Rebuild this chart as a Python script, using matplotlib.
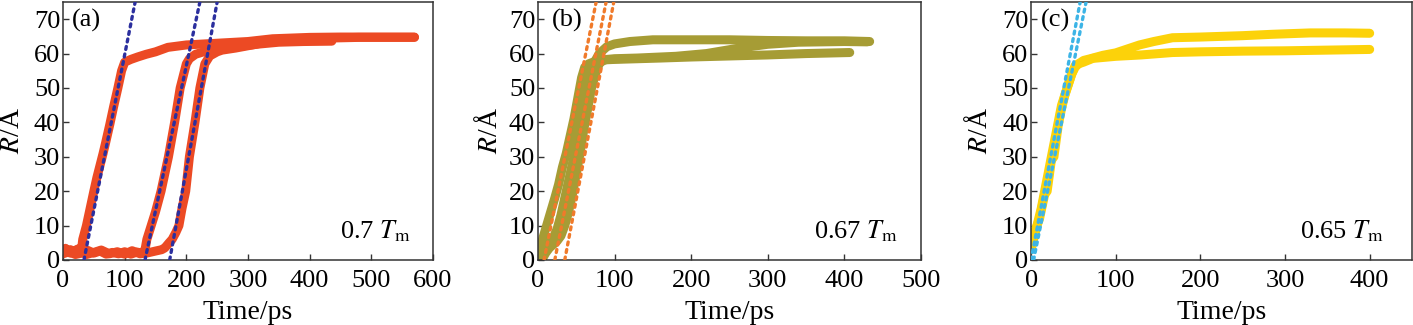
import matplotlib
matplotlib.use("Agg")
import matplotlib.pyplot as plt

plt.rcParams['font.family'] = ['Liberation Serif', 'DejaVu Serif']
plt.rcParams['mathtext.fontset'] = 'stix'

# ---------------- Panel (a): 0.7 Tm ----------------
a1_t = [0, 4, 8, 12, 16, 20, 24, 28, 30, 32, 38, 44, 50, 55, 60, 65, 69, 76, 82, 89, 95, 100,
        110, 121, 135, 150, 170, 200, 250, 300, 340, 370, 400, 450, 500, 570]
a1_R = [2.6, 3.4, 2.4, 3.0, 2.2, 2.8, 3.2, 2.5, 3.0, 6.0, 10, 15, 20, 24, 27.5, 31, 34, 39.5, 44.5, 50, 55, 57.5,
        58.3, 59.0, 59.8, 60.5, 61.8, 62.5, 63.0, 63.5, 64.3, 64.5, 64.7, 64.8, 64.8, 64.8]

a2_t = [0, 10, 20, 30, 40, 50, 60, 70, 80, 90, 100, 110, 120, 128, 133, 136, 143, 150, 159, 165, 171,
        181, 190, 200, 205, 215, 228, 241, 260, 290, 320, 350, 390, 436]
a2_R = [1.8, 2.4, 1.6, 2.0, 2.8, 2.0, 2.6, 1.7, 2.2, 1.8, 2.4, 1.7, 2.3, 2.0, 3.0, 6.0, 10, 14, 20, 25, 30,
        40, 50, 57, 58.5, 59.8, 60.5, 61.0, 61.6, 62.2, 62.8, 63.3, 63.5, 63.6]

a3_t = [0, 12, 25, 38, 50, 62, 75, 88, 100, 112, 125, 138, 150, 160, 165, 172, 177, 183, 188, 193, 199,
        205, 214, 222, 230, 238, 250, 258, 280, 310, 340, 380, 430, 480, 570]
a3_R = [3.0, 2.0, 2.6, 1.6, 2.2, 2.9, 1.8, 2.4, 1.7, 2.7, 1.8, 2.1, 2.6, 3.0, 3.5, 5.0, 6.0, 8.0, 10, 15, 20,
        30, 40, 50, 57, 59.3, 60.5, 61.0, 61.6, 62.6, 63.8, 64.3, 64.5, 64.7, 64.7]

a_fit_t0 = [34, 133, 173]
a_fit_t1 = [117, 222, 250]

# ---------------- Panel (b): 0.67 Tm ----------------
bA_t = [0, 3, 6, 10, 14, 18, 22, 27, 32, 37, 42, 47, 52, 57, 61, 66, 72, 80, 90, 100, 130, 160, 200,
        250, 300, 350, 407]
bA_R = [1, 3, 6, 9, 12, 15, 18, 22, 27, 31, 36, 41, 47, 53, 56, 57, 57.5, 58, 58.2, 58.3, 58.5, 58.7, 59,
        59.3, 59.6, 60, 60.3]

bB_t = [0, 5, 10, 15, 20, 25, 30, 35, 40, 45, 50, 55, 60, 65, 70, 75, 80, 90, 100, 120, 150, 200, 250,
        300, 350, 400, 433]
bB_R = [2, 3, 4, 5, 6.5, 9, 13, 18, 23, 28, 33, 38, 44, 50, 55, 58, 60, 62, 62.8, 63.5, 64, 64, 64,
        63.8, 63.7, 63.7, 63.5]

bC_t = [5, 10, 15, 20, 25, 30, 35, 40, 45, 50, 55, 60, 65, 70, 75, 80, 85, 90, 100, 130, 180, 220, 260,
        300, 340, 400, 430]
bC_R = [0, 2, 3.5, 4.5, 5.5, 7, 10, 14, 19, 25, 31, 38, 44, 50, 54, 57, 58, 58.3, 58.5, 58.7, 59.2, 60,
        61.5, 62.7, 63.3, 63.5, 63.4]

b_fit_t0 = [8, 22, 35]
b_fit_t1 = [76, 89, 99]

# ---------------- Panel (c): 0.65 Tm ----------------
c1_t = [0, 3, 7, 12, 16, 20, 24, 28, 32, 36, 40, 44, 48, 52, 56, 62, 70, 85, 100, 128, 145, 167, 200,
        250, 285, 330, 370, 400]
c1_R = [8, 7, 10, 15, 20, 25, 30, 35, 40, 45, 48, 51, 54, 56, 57, 58, 58.5, 59.5, 60.2, 62.5, 63.5, 64.6,
        64.8, 65.2, 65.6, 66, 66, 65.9]

c2_t = [0, 3, 7, 10, 16, 19, 24, 27, 32, 36, 40, 44, 48, 52, 56, 62, 73, 100, 130, 167, 200, 250, 300,
        350, 400]
c2_R = [3, 6, 10, 12, 19, 20, 29, 30, 39, 44, 48, 51, 54, 56.5, 57, 57.5, 58.6, 59.2, 59.6, 60.3, 60.5,
        60.7, 60.8, 61, 61.2]

c_fit_t0 = [0, 3]
c_fit_t1 = [58, 65]

fit_R0, fit_R1 = 0, 75

panels = [
    dict(curves=[(a1_t, a1_R), (a2_t, a2_R), (a3_t, a3_R)], fits=(a_fit_t0, a_fit_t1),
         col='#ec4a24', fcol='#2b2f9e', xlim=600, xticks=[0, 100, 200, 300, 400, 500, 600],
         label='(a)', temp='0.7', rect=[0.0446, 0.2, 0.2618, 0.794], ylx=-0.103, tx=0.94, lx=0.024),
    dict(curves=[(bA_t, bA_R), (bB_t, bB_R), (bC_t, bC_R)], fits=(b_fit_t0, b_fit_t1),
         col='#a69c35', fcol='#f07a2a', xlim=500, xticks=[0, 100, 200, 300, 400, 500],
         label='(b)', temp='0.67', rect=[0.3807, 0.2, 0.2711, 0.794], ylx=-0.091, tx=0.94, lx=0.037),
    dict(curves=[(c1_t, c1_R), (c2_t, c2_R)], fits=(c_fit_t0, c_fit_t1),
         col='#fcd20a', fcol='#3cb4e6', xlim=450, xticks=[0, 100, 200, 300, 400],
         label='(c)', temp='0.65', rect=[0.7297, 0.2, 0.2696, 0.794], ylx=-0.10, tx=0.925, lx=0.025),
]

fig = plt.figure(figsize=(14.13, 3.25), dpi=100)
for p in panels:
    ax = fig.add_axes(p['rect'])
    for t, r in p['curves']:
        ax.plot(t, r, color=p['col'], lw=6.5, solid_capstyle='round', solid_joinstyle='round', zorder=2)
    for t0, t1 in zip(*p['fits']):
        ax.plot([t0, t1], [fit_R0, fit_R1], color=p['fcol'], lw=2.4,
                linestyle=(0, (0.9, 1.4)), dash_capstyle='round', zorder=3)
    ax.set_xlim(0, p['xlim'])
    ax.set_ylim(0, 75)
    ax.set_xticks(p['xticks'])
    ax.set_yticks([0, 10, 20, 30, 40, 50, 60, 70])
    ax.tick_params(direction='in', length=4, width=1.0, color='#333333', labelsize=19)
    ax.tick_params(axis='x', pad=7)
    ax.tick_params(axis='y', pad=2)
    for s in ax.spines.values():
        s.set_color('#333333')
        s.set_linewidth(1.1)
    ax.set_xlabel('Time/ps', fontsize=20, labelpad=6)
    ax.set_ylabel(r'$R$/Å', fontsize=20)
    ax.yaxis.set_label_coords(p['ylx'], 0.5)
    ax.text(p['lx'], 0.93, p['label'], transform=ax.transAxes, fontsize=19, ha='left', va='center')
    ax.text(p['tx'], 0.11, p['temp'] + r' $T_{\mathrm{m}}$', transform=ax.transAxes,
            fontsize=19, ha='right', va='center')

fig.savefig('out.png', dpi=100, facecolor='white')
